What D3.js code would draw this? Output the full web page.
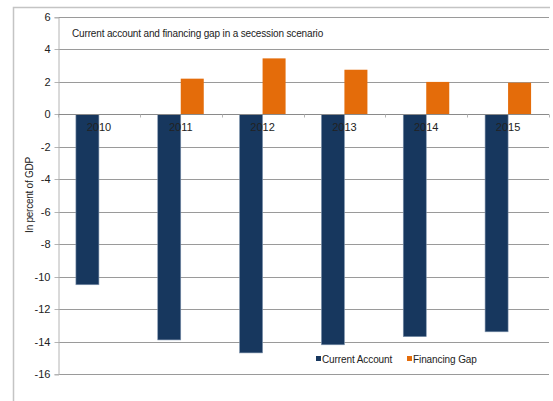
<!DOCTYPE html>
<html>
<head>
<meta charset="utf-8">
<script src="https://cdn.jsdelivr.net/npm/d3@7"></script>
<style>
  html, body { margin: 0; padding: 0; background: #fff; }
  svg { display: block; font-family: "Liberation Sans", Arial, sans-serif; }
</style>
</head>
<body>
<svg id="chart" width="553" height="401"></svg>
<script>
const years = ["2010", "2011", "2012", "2013", "2014", "2015"];
const currentAccount = [-10.5, -13.9, -14.7, -14.2, -13.7, -13.4];
const financingGap = [0, 2.2, 3.45, 2.75, 2.0, 1.95];
const seriesNames = ["Current Account", "Financing Gap"];
const seriesColors = ["#17375E", "#E46C0A"];
const yTicks = [6, 4, 2, 0, -2, -4, -6, -8, -10, -12, -14, -16];
const titleText = "Current account and financing gap in a secession scenario";
const yAxisTitle = "In percent of GDP";

(function () {
const svg = d3.select("#chart");

// outer frame
svg.append("path")
  .attr("d", "M13.5,401 L13.5,7.5 L550,7.5")
  .attr("fill", "none").attr("stroke", "#c4c4c4").attr("stroke-width", 1.5);

const pLeft = 58, pRight = 549, pTop = 17, pBottom = 374;
const x = d3.scaleBand().domain(years).range([pLeft, pRight]).padding(0);
const y = d3.scaleLinear().domain([-16, 6]).range([pBottom, pTop]);
const barW = 23;
const xs = d3.scaleBand().domain(seriesNames).range([0, barW * 2]);

// gridlines
svg.append("g").selectAll("line").data(yTicks).join("line")
  .attr("x1", pLeft).attr("x2", pRight)
  .attr("y1", d => Math.round(y(d)) + 0.5).attr("y2", d => Math.round(y(d)) + 0.5)
  .attr("stroke", "#9a9a9a").attr("stroke-width", 1);

// y axis
const yAxis = d3.axisLeft(y).tickValues(yTicks).tickFormat(d => String(d)).tickSize(4).tickPadding(4);
const gy = svg.append("g").attr("transform", `translate(${pLeft + 0.5},0.5)`).call(yAxis);
gy.select(".domain").attr("stroke", "#b4b4b4");
gy.selectAll(".tick line").attr("stroke", "#b4b4b4");
gy.selectAll(".tick text").attr("font-size", 11).attr("fill", "#222")
  .attr("font-family", "Liberation Sans, Arial, sans-serif");
gy.selectAll(".tick").attr("transform", d => `translate(0,${Math.round(y(d))})`);

// bars
const data = years.map((yr, i) => ({ year: yr, values: [currentAccount[i], financingGap[i]] }));
const groups = svg.append("g").selectAll("g").data(data).join("g")
  .attr("transform", d => `translate(${x(d.year) + x.bandwidth() / 2 - barW},0)`);
groups.selectAll("rect").data(d => d.values.map((v, j) => ({ v, s: seriesNames[j], c: seriesColors[j] })))
  .join("rect")
  .filter(d => d.v !== 0)
  .attr("x", d => xs(d.s))
  .attr("width", xs.bandwidth())
  .attr("y", d => Math.min(y(d.v), y(0)))
  .attr("height", d => Math.abs(y(d.v) - y(0)))
  .attr("fill", d => d.c)
  .attr("stroke", d => d.s === "Current Account" ? "#7f93ad" : "none")
  .attr("stroke-width", 0.6);

// x axis at zero
const zeroY = Math.round(y(0)) + 0.5;
svg.append("line").attr("x1", pLeft).attr("x2", pRight).attr("y1", zeroY).attr("y2", zeroY)
  .attr("stroke", "#8a8a8a");
const bounds = years.map(d => x(d)).concat([pRight]);
svg.append("g").selectAll("line").data(bounds).join("line")
  .attr("x1", d => Math.round(d) + 0.5).attr("x2", d => Math.round(d) + 0.5)
  .attr("y1", zeroY).attr("y2", zeroY + 3)
  .attr("stroke", "#b4b4b4");
svg.append("g").selectAll("text").data(years).join("text")
  .attr("x", d => x(d) + x.bandwidth() / 2)
  .attr("y", 131)
  .attr("text-anchor", "middle")
  .attr("font-size", 11).attr("fill", "#222")
  .text(d => d);

// title
svg.append("text").attr("x", 72).attr("y", 37)
  .attr("font-size", 10).attr("fill", "#222").attr("letter-spacing", -0.15)
  .text(titleText);

// y axis title
svg.append("text")
  .attr("transform", "translate(33,195) rotate(-90)")
  .attr("text-anchor", "middle")
  .attr("font-size", 10).attr("fill", "#222").attr("letter-spacing", -0.25)
  .text(yAxisTitle);

// legend
const legendX = [316, 407];
const lg = svg.append("g").selectAll("g").data(seriesNames).join("g")
  .attr("transform", (d, i) => `translate(${legendX[i]},356)`);
lg.append("rect").attr("width", 5).attr("height", 5).attr("fill", (d, i) => seriesColors[i]);
lg.append("text").attr("x", 6).attr("y", 6.5)
  .attr("font-size", 10).attr("fill", "#222").attr("letter-spacing", -0.1)
  .text(d => d);
})();
</script>
</body>
</html>
